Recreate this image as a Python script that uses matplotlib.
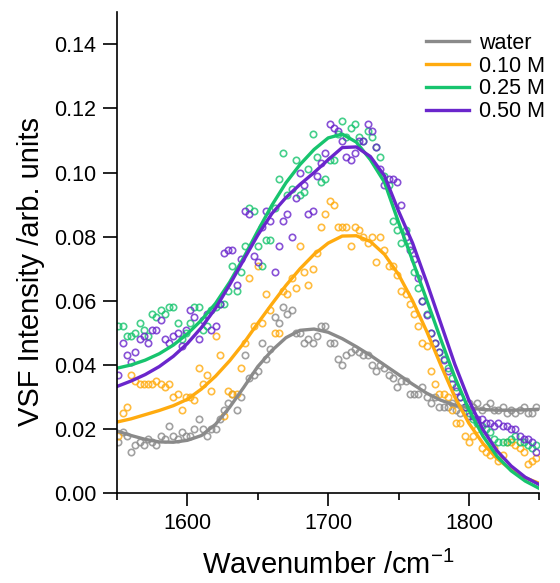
# VSF spectra: raw points + fitted curves for water and three concentrations
import numpy as np
import matplotlib
matplotlib.use("Agg")
import matplotlib.pyplot as plt
from matplotlib.ticker import MultipleLocator

plt.rcParams['font.family'] = ['Liberation Sans', 'DejaVu Sans']
plt.rcParams['mathtext.fontset'] = 'custom'
plt.rcParams['mathtext.rm'] = 'Liberation Sans'
plt.rcParams['axes.unicode_minus'] = False

# measured wavenumbers (cm-1)
wn = [1551, 1554, 1557, 1560, 1563, 1566, 1569, 1572, 1575, 1578,
      1581, 1584, 1587, 1590, 1593, 1596, 1599, 1602, 1605, 1608,
      1611, 1614, 1617, 1620, 1623, 1626, 1629, 1632, 1635, 1638,
      1641, 1644, 1647, 1650, 1653, 1656, 1659, 1662, 1665, 1668,
      1671, 1674, 1677, 1680, 1683, 1686, 1689, 1692, 1695, 1698,
      1701, 1704, 1707, 1710, 1713, 1716, 1719, 1722, 1725, 1728,
      1731, 1734, 1737, 1740, 1743, 1746, 1749, 1752, 1755, 1758,
      1761, 1764, 1767, 1770, 1773, 1776, 1779, 1782, 1785, 1788,
      1791, 1794, 1797, 1800, 1803, 1806, 1809, 1812, 1815, 1818,
      1821, 1824, 1827, 1830, 1833, 1836, 1839, 1842, 1845, 1848]

water_pts = [0.016, 0.019, 0.018, 0.013, 0.015, 0.016, 0.015, 0.017, 0.016, 0.015,
             0.018, 0.017, 0.021, 0.018, 0.017, 0.019, 0.018, 0.018, 0.020, 0.023,
             0.020, 0.018, 0.020, 0.020, 0.023, 0.026, 0.028, 0.031, 0.026, 0.030,
             0.043, 0.036, 0.037, 0.038, 0.047, 0.042, 0.045, 0.055, 0.053, 0.058,
             0.056, 0.057, 0.050, 0.050, 0.047, 0.048, 0.047, 0.049, 0.052, 0.052,
             0.047, 0.047, 0.042, 0.040, 0.043, 0.044, 0.045, 0.044, 0.043, 0.043,
             0.040, 0.038, 0.040, 0.039, 0.037, 0.036, 0.033, 0.035, 0.035, 0.031,
             0.031, 0.031, 0.033, 0.030, 0.028, 0.030, 0.027, 0.027, 0.027, 0.028,
             0.026, 0.025, 0.027, 0.028, 0.027, 0.028, 0.026, 0.027, 0.028, 0.026,
             0.026, 0.027, 0.025, 0.026, 0.025, 0.026, 0.027, 0.025, 0.025, 0.027]

m010_pts = [0.018, 0.025, 0.027, 0.037, 0.035, 0.034, 0.034, 0.034, 0.034, 0.035,
            0.034, 0.033, 0.034, 0.030, 0.031, 0.026, 0.030, 0.030, 0.029, 0.039,
            0.034, 0.037, 0.032, 0.049, 0.043, 0.024, 0.032, 0.031, 0.031, 0.039,
            0.047, 0.067, 0.052, 0.071, 0.053, 0.062, 0.057, 0.050, 0.050, 0.063,
            0.062, 0.067, 0.064, 0.077, 0.069, 0.065, 0.070, 0.075, 0.083, 0.087,
            0.091, 0.090, 0.083, 0.083, 0.083, 0.077, 0.083, 0.082, 0.080, 0.078,
            0.080, 0.072, 0.080, 0.076, 0.071, 0.071, 0.068, 0.063, 0.062, 0.059,
            0.056, 0.052, 0.047, 0.046, 0.038, 0.034, 0.031, 0.031, 0.030, 0.026,
            0.022, 0.022, 0.018, 0.016, 0.018, 0.020, 0.014, 0.013, 0.012, 0.014,
            0.010, 0.012, 0.016, 0.016, 0.015, 0.014, 0.013, 0.009, 0.010, 0.011]

m025_pts = [0.052, 0.052, 0.049, 0.049, 0.050, 0.053, 0.051, 0.049, 0.056, 0.055,
            0.057, 0.056, 0.058, 0.058, 0.053, 0.048, 0.050, 0.053, 0.058, 0.058,
            0.051, 0.052, 0.057, 0.058, 0.059, 0.059, 0.063, 0.071, 0.063, 0.069,
            0.077, 0.089, 0.088, 0.077, 0.071, 0.079, 0.079, 0.089, 0.098, 0.106,
            0.093, 0.095, 0.104, 0.093, 0.094, 0.101, 0.112, 0.105, 0.097, 0.098,
            0.104, 0.104, 0.112, 0.116, 0.111, 0.114, 0.115, 0.111, 0.110, 0.113,
            0.111, 0.108, 0.105, 0.099, 0.096, 0.085, 0.082, 0.078, 0.082, 0.077,
            0.069, 0.064, 0.060, 0.056, 0.050, 0.047, 0.044, 0.042, 0.039, 0.036,
            0.033, 0.030, 0.027, 0.025, 0.023, 0.022, 0.021, 0.020, 0.019, 0.017,
            0.016, 0.016, 0.016, 0.017, 0.018, 0.016, 0.016, 0.015, 0.014, 0.015]

m050_pts = [0.037, 0.047, 0.043, 0.041, 0.044, 0.048, 0.049, 0.047, 0.051, 0.051,
            0.054, 0.048, 0.047, 0.049, 0.050, 0.046, 0.051, 0.057, 0.055, 0.048,
            0.054, 0.056, 0.051, 0.052, 0.059, 0.075, 0.076, 0.076, 0.065, 0.073,
            0.088, 0.087, 0.074, 0.072, 0.083, 0.088, 0.085, 0.069, 0.077, 0.085,
            0.087, 0.080, 0.092, 0.100, 0.096, 0.087, 0.088, 0.099, 0.103, 0.106,
            0.115, 0.114, 0.113, 0.110, 0.105, 0.104, 0.106, 0.110, 0.110, 0.115,
            0.113, 0.108, 0.101, 0.096, 0.098, 0.098, 0.097, 0.090, 0.080, 0.076,
            0.073, 0.067, 0.060, 0.0555, 0.050, 0.047, 0.044, 0.0415, 0.038, 0.034,
            0.032, 0.030, 0.027, 0.024, 0.024, 0.023, 0.023, 0.022, 0.022, 0.021,
            0.022, 0.021, 0.021, 0.020, 0.020, 0.018, 0.017, 0.017, 0.016, 0.013]

# fitted curves, read every 10 cm-1
fit_wn = [1550, 1560, 1570, 1580, 1590, 1600, 1610, 1620, 1630, 1640, 1650,
          1660, 1670, 1680, 1690, 1700, 1710, 1720, 1730, 1740, 1750,
          1760, 1770, 1780, 1790, 1800, 1810, 1820, 1830, 1840, 1850]

water_fit = [0.0194, 0.0180, 0.0168, 0.0160, 0.0159, 0.0165, 0.0180, 0.0215, 0.0268, 0.0330, 0.0395,
             0.0445, 0.0485, 0.0508, 0.0512, 0.0502, 0.0482, 0.0457, 0.0430, 0.0400, 0.0370,
             0.0340, 0.0312, 0.0290, 0.0275, 0.0266, 0.0261, 0.0259, 0.0259, 0.0260, 0.0262]

m010_fit = [0.0222, 0.0232, 0.0245, 0.0258, 0.0273, 0.0293, 0.0325, 0.0365, 0.0413, 0.0468, 0.0530,
            0.0590, 0.0648, 0.0700, 0.0745, 0.0780, 0.0802, 0.0803, 0.0785, 0.0745, 0.0682,
            0.0600, 0.0505, 0.0400, 0.0300, 0.0218, 0.0155, 0.0108, 0.0073, 0.0048, 0.0031]

m025_fit = [0.0390, 0.0400, 0.0415, 0.0435, 0.0462, 0.0497, 0.0540, 0.0592, 0.0658, 0.0735, 0.0818,
            0.0898, 0.0968, 0.1025, 0.1072, 0.1108, 0.1120, 0.1095, 0.1040, 0.0970, 0.0845,
            0.0725, 0.0603, 0.0480, 0.0362, 0.0260, 0.0178, 0.0115, 0.0070, 0.0038, 0.0015]

m050_fit = [0.0333, 0.0350, 0.0370, 0.0395, 0.0427, 0.0467, 0.0517, 0.0577, 0.0650, 0.0728, 0.0805,
            0.0872, 0.0922, 0.0963, 0.1000, 0.1040, 0.1078, 0.1080, 0.1050, 0.0990, 0.0880,
            0.0780, 0.0658, 0.0530, 0.0402, 0.0290, 0.0198, 0.0132, 0.0085, 0.0050, 0.0027]

labels = ['water', '0.10 M', '0.25 M', '0.50 M']
colors = ['#8a8a8a', '#ffab0f', '#17c46e', '#6a26cc']

fig = plt.figure(figsize=(5.6, 5.83), dpi=100)
ax = fig.add_axes([0.209, 0.154, 0.754, 0.825])

series = [(water_pts, water_fit), (m010_pts, m010_fit),
          (m025_pts, m025_fit), (m050_pts, m050_fit)]

for (pts, fit), lab, c in zip(series, labels, colors):
    ax.plot(wn, pts, 'o', mfc='none', mec=c, ms=4.6, mew=1.2, alpha=0.8)
for (pts, fit), lab, c in zip(series, labels, colors):
    ax.plot(fit_wn, fit, '-', color=c, lw=2.4, label=lab)

ax.set_xlim(1550, 1850)
ax.set_ylim(0, 0.15)
ax.xaxis.set_major_locator(MultipleLocator(100))
ax.xaxis.set_minor_locator(MultipleLocator(50))
ax.set_yticks(np.arange(0, 0.141, 0.02))
ax.yaxis.set_major_formatter(matplotlib.ticker.FormatStrFormatter('%.2f'))

for s in ['top', 'right']:
    ax.spines[s].set_visible(False)
for s in ['left', 'bottom']:
    ax.spines[s].set_linewidth(1.2)

ax.tick_params(which='major', direction='out', length=9, width=1.2, labelsize=15.5, pad=5)
ax.tick_params(which='minor', direction='out', length=5, width=1.2)
ax.tick_params(axis='y', length=10)

ax.set_xlabel('Wavenumber /cm$^{\\mathregular{-1}}$', fontsize=21, labelpad=12)
ax.set_ylabel('VSF Intensity /arb. units', fontsize=21)
ax.yaxis.set_label_coords(-0.17, 0.46)

ax.legend(loc='upper right', bbox_to_anchor=(1.035, 0.975), frameon=False,
          fontsize=15.5, handlelength=2.0, handletextpad=0.5, labelspacing=0.08,
          borderaxespad=0)

fig.savefig('out.png', dpi=100)
